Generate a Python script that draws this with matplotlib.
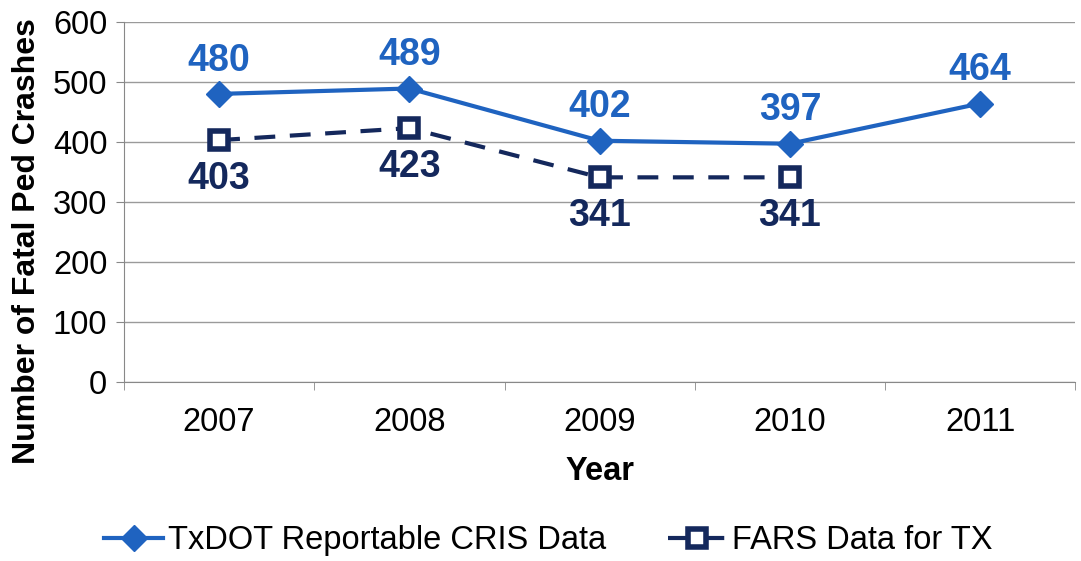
import matplotlib
matplotlib.use("Agg")
import matplotlib.pyplot as plt
from matplotlib.ticker import FixedLocator

plt.rcParams['font.family'] = ['Liberation Sans', 'DejaVu Sans']

years = ['2007', '2008', '2009', '2010', '2011']
cris = [480, 489, 402, 397, 464]
fars = [403, 423, 341, 341]

blue = '#1F63C0'
navy = '#14285C'

fig = plt.figure(figsize=(10.81, 5.61), dpi=100)
ax = fig.add_axes([0.1147, 0.319, 0.88, 0.642])

x = list(range(len(years)))
ax.plot(x, cris, color=blue, lw=3, marker='D', ms=13, mfc=blue, mec=blue,
        label='TxDOT Reportable CRIS Data', zorder=3)
ax.plot(x[:len(fars)], fars, color=navy, lw=3, ls=(0, (5, 3.5)), marker='s', ms=13,
        mfc='white', mec=navy, mew=4, label='FARS Data for TX', zorder=3)

for xi, v in zip(x, cris):
    ax.annotate(str(v), (xi, v), xytext=(0, 24), textcoords='offset points',
                ha='center', va='center', fontsize=27, fontweight='bold', color=blue)
for xi, v in zip(x, fars):
    ax.annotate(str(v), (xi, v), xytext=(0, -28), textcoords='offset points',
                ha='center', va='center', fontsize=27, fontweight='bold', color=navy)

ax.set_xlim(-0.5, 4.5)
ax.set_ylim(0, 600)
ax.set_yticks(range(0, 601, 100))
ax.set_xticks(x)
ax.set_xticklabels(years)
ax.xaxis.set_minor_locator(FixedLocator([i - 0.5 for i in range(len(years) + 1)]))
ax.tick_params(axis='x', which='major', length=0, pad=18, labelsize=23.5)
ax.tick_params(axis='x', which='minor', length=6, color='#888888')
ax.tick_params(axis='y', length=6, color='#888888', labelsize=23.5, pad=6)
ax.grid(axis='y', color='#9A9A9A', lw=1)
ax.set_axisbelow(True)
for s in ['top', 'right']:
    ax.spines[s].set_visible(False)
for s in ['left', 'bottom']:
    ax.spines[s].set_color('#888888')

ax.set_xlabel('Year', fontsize=23.5, fontweight='bold', labelpad=13)
ax.set_ylabel('Number of Fatal Ped Crashes', fontsize=23, fontweight='bold')
ax.yaxis.set_label_coords(-0.086, 0.392)

ax.legend(loc='center', bbox_to_anchor=(0.446, -0.44), ncol=2, frameon=False,
          fontsize=23.5, handlelength=1.8, columnspacing=1.9, handletextpad=0.15)

fig.savefig('out.png', dpi=100)
